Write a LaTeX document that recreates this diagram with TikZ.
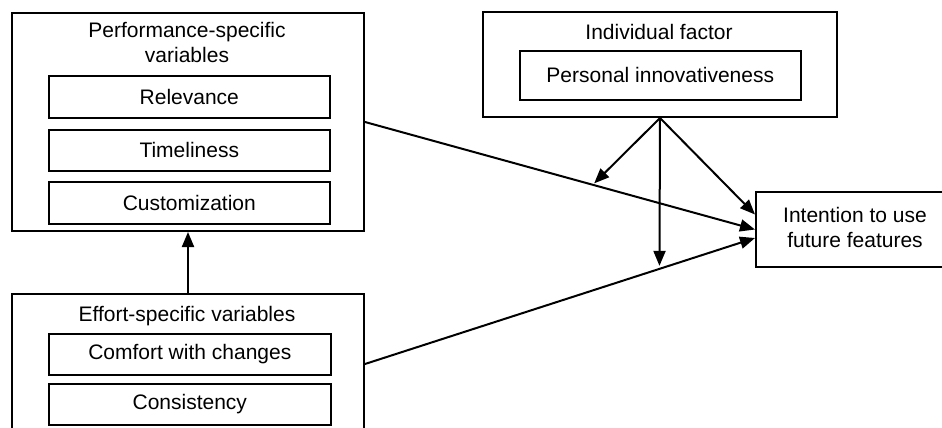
\documentclass[tikz,border=0pt]{standalone}
\usepackage{fontspec}
\setmainfont{Liberation Sans}
\usetikzlibrary{arrows.meta,calc}
\begin{document}
\begin{tikzpicture}[x=1pt,y=-1pt,
  every node/.style={font=\fontsize{21}{25}\selectfont},
  outerbox/.style={draw, line width=2pt, inner sep=0pt, anchor=north west},
  innerbox/.style={draw, line width=1.6pt, inner sep=0pt, anchor=north west},
  link/.style={line width=2pt, -{Triangle[length=15pt,width=12pt]}}]
\useasboundingbox (0,0) rectangle (942,428);
\clip (0,0) rectangle (942,428);

% performance-specific group
\node[outerbox, minimum width=352pt, minimum height=218pt] (perf) at (11,12) {};
\node[align=center] (perftitle) at (187,42.5) {Performance-specific\\variables};
\node[innerbox, minimum width=281pt, minimum height=42pt] (rel) at (48,75) {Relevance};
\node[innerbox, minimum width=281pt, minimum height=41pt] (time) at (48,129) {Timeliness};
\node[innerbox, minimum width=281pt, minimum height=42pt] (cust) at (48,181) {Customization};

% effort-specific group
\node[outerbox, minimum width=352pt, minimum height=140pt] (effort) at (11,293) {};
\node (efftitle) at (187,316) {Effort-specific variables};
\node[innerbox, minimum width=282pt, minimum height=41pt] (comf) at (48,333) {Comfort with changes};
\node[innerbox, minimum width=282pt, minimum height=41pt] (cons) at (48,383) {Consistency};

% individual factor
\node[outerbox, minimum width=354pt, minimum height=105pt] (indiv) at (482,11) {};
\node (indtitle) at (659,32) {Individual factor};
\node[innerbox, minimum width=281pt, minimum height=49pt] (pers) at (519,50) {Personal innovativeness};

% outcome
\node[outerbox, minimum width=200pt, minimum height=75pt] (intent) at (755,191) {};
\node[align=center] (intenttext) at (855,227) {Intention to use\\future features};

% points on the two main paths where the moderator acts
\coordinate (m1) at ($(perf.east)!0.584!(intent.west)$);
\coordinate (effend) at ([yshift=-8.5pt]intent.west);
\coordinate (m2) at ($(effort.east)!0.755!(effend)$);
\coordinate (indend) at ([yshift=15pt]intent.west);

% main paths
\draw[link] (effort.north) -- (perf.south);
\draw[link] (perf.east) -- (intent.west);
\draw[link] (effort.east) -- (effend);

% moderating effects
\draw[link, shorten >=2pt] (indiv.south) -- (m1);
\draw[link, shorten >=3pt] (indiv.south) -- (m2);
\draw[link] (indiv.south) -- (indend);
\end{tikzpicture}
\end{document}
